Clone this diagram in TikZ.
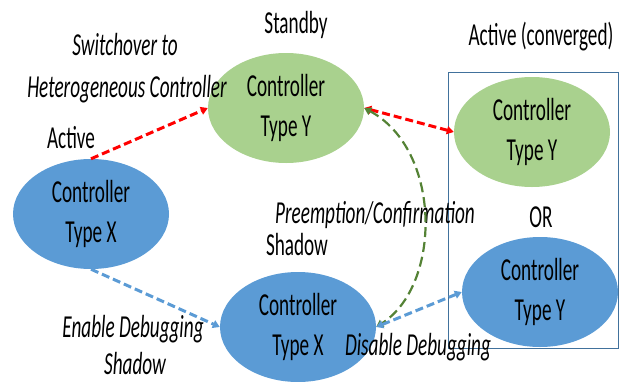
\documentclass[tikz,border=0pt]{standalone}
\usepackage{fontspec}
\setmainfont{Carlito}[FakeStretch=0.6]
\usetikzlibrary{arrows.meta,shapes.geometric}
\definecolor{gfill}{HTML}{A9D18E}
\definecolor{bfill}{HTML}{5B9BD5}
\definecolor{boxc}{HTML}{41719C}
\definecolor{redc}{HTML}{FF0000}
\definecolor{greenc}{HTML}{548235}
\definecolor{bluec}{HTML}{5B9BD5}
\tikzset{
  ctl/.style={ellipse, minimum width=156pt, minimum height=110pt, inner sep=0pt, align=center,
    font=\fontsize{32}{40}\selectfont, execute at begin node={\rule{0pt}{28pt}}},
  gctl/.style={ctl, fill=gfill},
  bctl/.style={ctl, fill=bfill},
  lbl/.style={inner sep=0pt, anchor=base, font=\fontsize{32}{38}\selectfont},
  ilbl/.style={lbl, font=\fontsize{32}{38}\selectfont\itshape},
  tip/.style={-{Triangle[length=7pt,width=8pt]}},
  dtip/.style={{Triangle[length=7pt,width=8pt]}-{Triangle[length=7pt,width=8pt]}},
  redarr/.style={draw=redc, line width=3pt, dash pattern=on 8pt off 4pt},
  bluearr/.style={draw=bluec, line width=3pt, dash pattern=on 8pt off 4pt},
  greenarr/.style={draw=greenc, line width=2.2pt, dash pattern=on 10pt off 5pt},
}
\begin{document}
\begin{tikzpicture}[x=1pt,y=-1pt]
\useasboundingbox (0,0) rectangle (627,381);
% box
\draw[boxc, line width=0.9pt] (448,72) rectangle (618,348);
% controllers
\node[gctl] (sby) at (286,108) {Controller\\Type Y};
\node[bctl] (actx) at (91,214) {Controller\\Type X};
\node[bctl] (shd) at (298,327) {Controller\\Type X};
\node[gctl] (acty) at (532,132) {Controller\\Type Y};
\node[bctl] (ory) at (540,292) {Controller\\Type Y};
% labels
\node[lbl] (lsby) at (296,33) {Standby};
\node[lbl] (lconv) at (541,45) {Active (converged)};
\node[ilbl] (lsw1) at (125,55) {Switchover to};
\node[ilbl] (lsw2) at (127,97) {Heterogeneous Controller};
\node[lbl] (lact) at (71,148) {Active};
\node[ilbl] (lpre) at (375,223) {Preemption/Confirmation};
\node[lbl] (lshd) at (297,255) {Shadow};
\node[lbl] (lor) at (541,227) {OR};
\node[ilbl] (len) at (133,337) {Enable Debugging};
\node[ilbl, text depth=0pt] (lshd2) at (135,374) {Shadow};
\node[ilbl] (ldis) at (418,355) {Disable Debugging};
% connectors
\draw[redarr, tip] (actx.north) -- (sby.west);
\draw[redarr, dtip] (sby.east) -- (acty.west);
\draw[greenarr, dtip] (sby.east) .. controls (442,150) and (442,285) .. (shd.east);
\draw[bluearr, tip] (actx.south) -- (shd.west);
\draw[bluearr, dtip] (shd.east) -- (ory.west);
\end{tikzpicture}
\end{document}
